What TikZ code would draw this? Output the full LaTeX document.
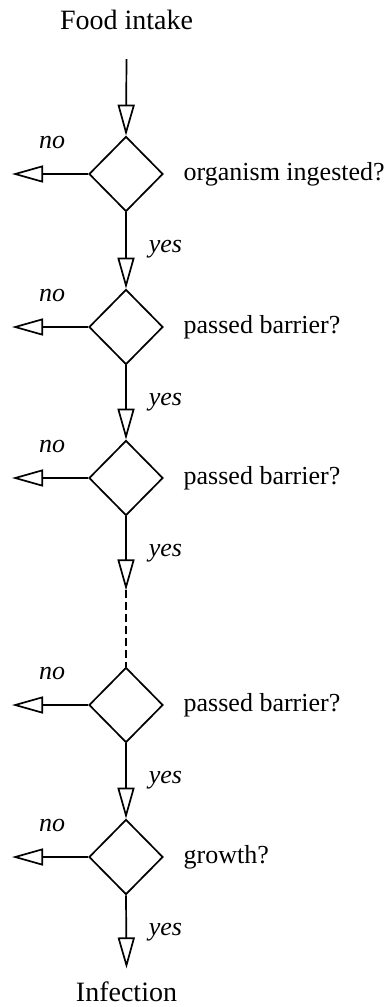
\documentclass[tikz,border=0pt]{standalone}
\usepackage{fontspec}
\setmainfont{Liberation Serif}
\usetikzlibrary{shapes.geometric,arrows.meta}
\begin{document}
\begin{tikzpicture}[x=1pt,y=-1pt,line width=1.7pt,
  dec/.style={draw,diamond,minimum width=74pt,minimum height=75pt,inner sep=0pt,line join=miter},
  lbl/.style={font=\fontsize{26}{30}\selectfont,inner sep=0pt,anchor=base west},
  ttl/.style={font=\fontsize{28}{32}\selectfont,inner sep=0pt,anchor=base},
  yn/.style={font=\fontsize{26}{30}\selectfont\itshape,inner sep=0pt},
  arr/.style={-{Triangle[open,length=31pt,width=17pt,line width=1.7pt]}},
  dsh/.style={dash pattern=on 8pt off 4pt}]
\useasboundingbox (0,0) rectangle (388,1007);
\node[ttl] (fi) at (126.5,29) {Food intake};
\node[ttl] (inf) at (126.5,1001) {Infection};
\node[dec] (d1) at (126,174) {};
\node[dec] (d2) at (126,327) {};
\node[dec] (d3) at (126,478) {};
\node[dec] (d4) at (126,705) {};
\node[dec] (d5) at (126,857) {};
\node[lbl] (t1) at ([xshift=19pt,yshift=-6pt]d1.east) {organism ingested?};
\node[lbl] (t2) at ([xshift=19pt,yshift=-6pt]d2.east) {passed barrier?};
\node[lbl] (t3) at ([xshift=19pt,yshift=-6pt]d3.east) {passed barrier?};
\node[lbl] (t4) at ([xshift=19pt,yshift=-6pt]d4.east) {passed barrier?};
\node[lbl] (t5) at ([xshift=19pt,yshift=-6pt]d5.east) {growth?};
\foreach \d in {d1,d2,d3,d4,d5}{
  \node[yn,anchor=base] (no-\d) at ([xshift=-74pt,yshift=26pt]\d.center) {no};
  \node[yn,anchor=base west] (yes-\d) at ([xshift=22pt,yshift=-40pt]\d.south) {yes};
  \coordinate (l-\d) at ([xshift=-114pt]\d.center);
  \draw[arr] (\d.west) -- (l-\d);
}
\coordinate (c3) at ([yshift=-74pt]d3.south);
\draw[arr] ([yshift=-29pt]fi.south) -- (d1.north);
\draw[arr] (d1.south) -- (d2.north);
\draw[arr] (d2.south) -- (d3.north);
\draw[arr] (d3.south) -- (c3);
\draw[dsh] (c3) -- (d4.north);
\draw[arr] (d4.south) -- (d5.north);
\draw[arr] (d5.south) -- ([yshift=12pt]inf.north);
\end{tikzpicture}
\end{document}
